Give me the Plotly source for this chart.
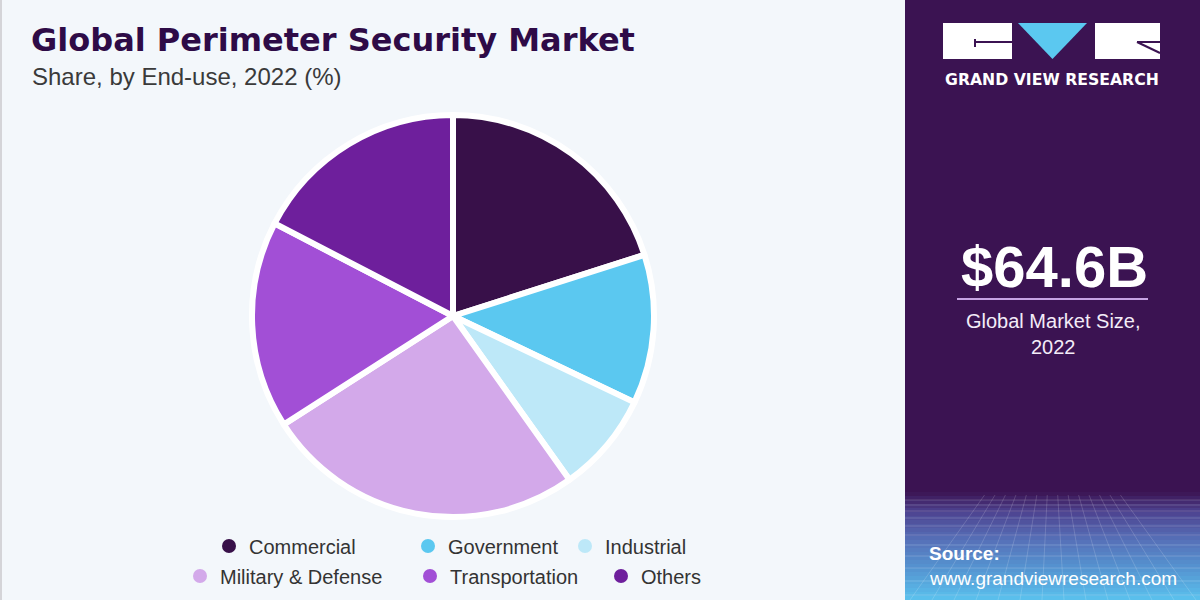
import plotly.graph_objects as go

# ---------------- data ----------------
categories = ["Commercial", "Government", "Industrial",
              "Military & Defense", "Transportation", "Others"]
shares = [20.1, 12.0, 8.1, 25.8, 16.7, 17.4]
colors = ["#381049", "#5bc8f0", "#bde8f8", "#d3a9ea", "#a24fd6", "#6e1f9c"]

title_text = "Global Perimeter Security Market"
subtitle_text = "Share, by End-use, 2022 (%)"
market_size = "$64.6B"
market_label = "Global Market Size,<br>2022"
brand_text = "GRAND VIEW RESEARCH"
source_label = "Source:"
source_url = "www.grandviewresearch.com"

# ---------------- geometry helpers ----------------
W, H = 1200, 600
ML, MR, MT, MB = 100, 400, 0, 0
PW, PH = W - ML - MR, H - MT - MB


def px(x):
    return (x - ML) / PW


def py(y):
    return (H - MB - y) / PH


PANEL = "#3b1352"
BG = "#f3f7fb"

# legend entry placement (pixel position of each marker: x, y)
legend_pos = [(229, 546), (428, 546), (585, 546),
              (200, 576), (430, 576), (621, 576)]
legend_ids = ["legend"] + ["legend%d" % i for i in range(2, len(categories) + 1)]

fig = go.Figure()

# pie
cx, cy, r = 453, 316, 201
fig.add_trace(go.Pie(
    labels=categories, values=shares,
    marker=dict(colors=colors, line=dict(color="#ffffff", width=6)),
    sort=False, direction="clockwise", rotation=0,
    textinfo="none", hoverinfo="label+percent", showlegend=False,
    domain=dict(x=[px(cx - r), px(cx + r)], y=[py(cy + r), py(cy - r)]),
))

# legend entries (circle markers)
for name, col, lg in zip(categories, colors, legend_ids):
    fig.add_trace(go.Scatter(
        x=[None], y=[None], mode="markers", name=name, legend=lg,
        marker=dict(color=col, size=14, symbol="circle"),
        showlegend=True, hoverinfo="skip",
    ))

shapes = []
# left thin border
shapes.append(dict(type="line", xref="paper", yref="paper",
                   x0=px(1), x1=px(1), y0=py(0), y1=py(600),
                   line=dict(color="#d4d4d8", width=2), layer="below"))
# right panel
shapes.append(dict(type="rect", xref="paper", yref="paper",
                   x0=px(905), x1=px(1200), y0=py(600), y1=py(0),
                   fillcolor=PANEL, line=dict(width=0), layer="below"))


# gradient at the bottom of the panel
def hex2rgb(h):
    h = h.lstrip("#")
    return tuple(int(h[i:i + 2], 16) for i in (0, 2, 4))


stops = [(492, "#3b1352"), (512, "#4d4390"), (540, "#5670b8"),
         (570, "#5596d2"), (600, "#5ac2ee")]
step = 4
y = 492
while y < 600:
    ym = y + step / 2
    for (ya, ca), (yb, cb) in zip(stops[:-1], stops[1:]):
        if ya <= ym <= yb:
            t = (ym - ya) / (yb - ya)
            a, b = hex2rgb(ca), hex2rgb(cb)
            c = tuple(round(a[i] + (b[i] - a[i]) * t) for i in range(3))
            break
    shapes.append(dict(type="rect", xref="paper", yref="paper",
                       x0=px(905), x1=px(1200), y0=py(y + step + 0.5), y1=py(y),
                       fillcolor="rgb(%d,%d,%d)" % c, line=dict(width=0),
                       layer="below"))
    y += step

# perspective grid decoration
for yy in [500, 505, 511, 518, 526, 535, 545, 556, 568, 581, 595]:
    shapes.append(dict(type="line", xref="paper", yref="paper",
                       x0=px(905), x1=px(1200), y0=py(yy), y1=py(yy),
                       line=dict(color="rgba(255,255,255,0.18)", width=1),
                       layer="below"))
vx, vy = 1052, 400
xb = 910
while xb <= 1200:
    xt = vx + (xb - vx) * (495 - vy) / (600 - vy)
    shapes.append(dict(type="line", xref="paper", yref="paper",
                       x0=px(xt), x1=px(xb), y0=py(495), y1=py(600),
                       line=dict(color="rgba(255,255,255,0.16)", width=1),
                       layer="below"))
    xb += 22

# logo
shapes.append(dict(type="rect", xref="paper", yref="paper",
                   x0=px(943), x1=px(1012), y0=py(59), y1=py(23),
                   fillcolor="#ffffff", line=dict(width=0)))
shapes.append(dict(type="rect", xref="paper", yref="paper",
                   x0=px(1095), x1=px(1160), y0=py(59), y1=py(23),
                   fillcolor="#ffffff", line=dict(width=0)))
shapes.append(dict(type="path", xref="paper", yref="paper",
                   path="M %f,%f L %f,%f L %f,%f Z" % (px(1018), py(23), px(1087), py(23),
                                                       px(1052.5), py(59)),
                   fillcolor="#5bc8f0", line=dict(width=0)))
for (x0, y0, x1, y1) in [(975, 42, 1012, 42), (975, 39, 975, 47),
                         (1137, 42, 1160, 42), (1137, 42, 1160, 53)]:
    shapes.append(dict(type="line", xref="paper", yref="paper",
                       x0=px(x0), x1=px(x1), y0=py(y0), y1=py(y1),
                       line=dict(color=PANEL, width=2)))
# separator line under the market size
shapes.append(dict(type="line", xref="paper", yref="paper",
                   x0=px(957), x1=px(1148), y0=py(299), y1=py(299),
                   line=dict(color="#c6a3e3", width=2)))

annotations = [
    dict(text=title_text, x=px(29), y=py(40), xanchor="left", yanchor="middle",
         font=dict(family="DejaVu Sans", size=32, weight="bold", color="#2e0b47")),
    dict(text=subtitle_text, x=px(30), y=py(76), xanchor="left", yanchor="middle",
         font=dict(family="Liberation Sans", size=24, color="#3a3a3a")),
    dict(text=brand_text, x=px(1052), y=py(79), xanchor="center", yanchor="middle",
         font=dict(family="DejaVu Sans", size=15.7, weight="bold", color="#ffffff")),
    dict(text=market_size, x=px(1054), y=py(267), xanchor="center", yanchor="middle",
         font=dict(family="Liberation Sans", size=58, weight="bold", color="#ffffff")),
    dict(text=market_label, x=px(1053), y=py(334), xanchor="center", yanchor="middle",
         font=dict(family="Liberation Sans", size=20, color="#f3ecf8")),
    dict(text="<b>" + source_label + "</b>", x=px(927), y=py(553), xanchor="left",
         yanchor="middle",
         font=dict(family="Liberation Sans", size=19, color="#ffffff")),
    dict(text=source_url, x=px(927), y=py(578), xanchor="left", yanchor="middle",
         font=dict(family="Liberation Sans", size=19, color="#ffffff")),
]
for a in annotations:
    a.update(xref="paper", yref="paper", showarrow=False)

legend_font = dict(family="Liberation Sans", size=20, color="#333333")
legend_layouts = {}
for lg, (mx, my) in zip(legend_ids, legend_pos):
    legend_layouts[lg] = dict(orientation="h", x=px(mx - 20), xanchor="left",
                              y=py(my), yanchor="middle",
                              bgcolor="rgba(0,0,0,0)", font=legend_font)

fig.update_layout(
    width=W, height=H,
    margin=dict(l=ML, r=MR, t=MT, b=MB, pad=0, autoexpand=False),
    paper_bgcolor=BG, plot_bgcolor="rgba(0,0,0,0)",
    xaxis=dict(visible=False), yaxis=dict(visible=False),
    shapes=shapes, annotations=annotations,
    showlegend=True,
    **legend_layouts,
)

fig.write_html("out.html")
